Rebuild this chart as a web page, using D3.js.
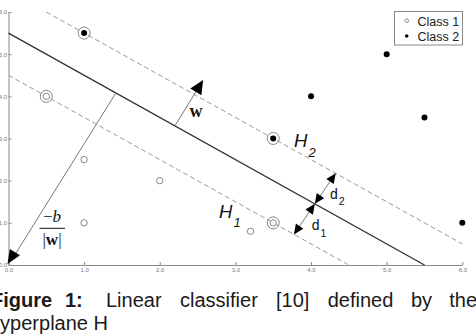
<!DOCTYPE html>
<html>
<head>
<meta charset="utf-8">
<script src="https://cdn.jsdelivr.net/npm/d3@7"></script>
<style>
  body { margin: 0; background: #fff; }
  svg { display: block; }
</style>
</head>
<body>
<svg id="chart"></svg>
<script>
// data
const class1X = [0.5, 1, 1, 2, 3.2, 3.5];
const class1Y = [4, 2.5, 1, 2, 0.8, 1];
const class2X = [1, 3.5, 4, 5, 5.5, 6];
const class2Y = [5.5, 3, 4, 5, 3.5, 1];
const supportClass1 = [[0.5, 4], [3.5, 1]];
const supportClass2 = [[1, 5.5], [3.5, 3]];
// hyperplanes y = c - x, drawn between xStart and xEnd
const planeNames = ['H', 'H2', 'H1'];
const planeIntercepts = [5.5, 6.5, 4.5];
const planeXStart = [0, 0.5, 0];
const planeXEnd = [5.5, 6, 4.5];
const xTicks = [0, 1, 2, 3, 4, 5, 6];
const yTicks = [0, 1, 2, 3, 4, 5, 6];
const legendLabels = ['Class 1', 'Class 2'];

const width = 476;
const height = 336;

const svg = d3.select('#chart').attr('width', width).attr('height', height);

const x = d3.scaleLinear().domain([0, 6]).range([8.5, 462.3]);
const y = d3.scaleLinear().domain([0, 6]).range([265, 12]);

// axes
const axisColor = '#8a8a8a';
const xAxis = svg.append('g')
  .attr('transform', `translate(0,${y(0)})`)
  .call(d3.axisBottom(x).tickValues(xTicks).tickSize(-3).tickPadding(3).tickSizeOuter(0));
const yAxis = svg.append('g')
  .attr('transform', `translate(${x(0)},0)`)
  .call(d3.axisLeft(y).tickValues(yTicks).tickSize(-3).tickPadding(1.5).tickSizeOuter(0));
[xAxis, yAxis].forEach((g) => {
  g.select('.domain').attr('stroke', axisColor);
  g.selectAll('.tick line').attr('stroke', axisColor);
  g.selectAll('.tick text')
    .attr('fill', '#777')
    .style('font-family', 'Liberation Sans, Arial, sans-serif')
    .style('font-size', '6px');
});

// hyperplanes
const planes = planeNames.map((name, i) => ({
  name, c: planeIntercepts[i], x0: planeXStart[i], x1: planeXEnd[i],
}));
svg.selectAll('.plane')
  .data(planes)
  .enter()
  .append('line')
  .attr('x1', (d) => x(d.x0))
  .attr('y1', (d) => y(d.c - d.x0))
  .attr('x2', (d) => x(d.x1))
  .attr('y2', (d) => y(d.c - d.x1))
  .attr('stroke', (d) => (d.name === 'H' ? '#333' : '#999'))
  .attr('stroke-width', (d) => (d.name === 'H' ? 1.4 : 1))
  .attr('stroke-dasharray', (d) => (d.name === 'H' ? null : '5,3'));

// helpers for the annotation arrows (pixel space)
function onPlane(xv, c) {
  return [x(xv), y(c - xv)];
}
function unit(dx, dy) {
  const l = Math.hypot(dx, dy);
  return [dx / l, dy / l];
}
// distance t along dir from p until reaching plane y = c - x
function reach(p, dir, c) {
  const kx = x(1) - x(0);
  const ky = y(0) - y(1);
  const x0 = x.invert(p[0]);
  const y0 = y.invert(p[1]);
  return (c - x0 - y0) / (dir[0] / kx - dir[1] / ky);
}
function head(tip, dir, len, half) {
  const bx = tip[0] - dir[0] * len;
  const by = tip[1] - dir[1] * len;
  const n = [-dir[1], dir[0]];
  return [tip, [bx + n[0] * half, by + n[1] * half], [bx - n[0] * half, by - n[1] * half]];
}
const ann = svg.append('g');
function drawHead(pts) {
  ann.append('polygon').attr('points', pts.map((p) => p.join(',')).join(' ')).attr('fill', '#000');
}
function drawLine(a, b) {
  ann.append('line')
    .attr('x1', a[0]).attr('y1', a[1]).attr('x2', b[0]).attr('y2', b[1])
    .attr('stroke', '#777').attr('stroke-width', 1);
}

// -b/|w| : origin to H
const origin = [x(0), y(0)];
const footB = onPlane(1.42, planeIntercepts[0]);
const dirB = unit(origin[0] - footB[0], origin[1] - footB[1]);
drawLine(footB, [origin[0] - dirB[0] * 10, origin[1] - dirB[1] * 10]);
drawHead(head([origin[0] - 1, origin[1] - 1], dirB, 14, 6));

// w : H towards H2
const baseW = onPlane(2.2, planeIntercepts[0]);
const dirW = unit(0.525, -0.851);
const tW = reach(baseW, dirW, planeIntercepts[1]);
const tipW = [baseW[0] + dirW[0] * (tW + 17), baseW[1] + dirW[1] * (tW + 17)];
drawLine(baseW, [tipW[0] - dirW[0] * 12, tipW[1] - dirW[1] * 12]);
drawHead(head(tipW, dirW, 14, 6.5));

// d1 / d2 : double arrows from H
const midD = onPlane(4.05, planeIntercepts[0]);
const dirD2 = unit(0.564, -0.826);
const dirD1 = [-dirD2[0], -dirD2[1]];
const t2 = reach(midD, dirD2, planeIntercepts[1]);
const t1 = reach(midD, dirD1, planeIntercepts[2]);
const tip2 = [midD[0] + dirD2[0] * t2, midD[1] + dirD2[1] * t2];
const tip1 = [midD[0] + dirD1[0] * t1, midD[1] + dirD1[1] * t1];
drawLine(tip1, tip2);
drawHead(head(tip2, dirD2, 10, 4.5));
drawHead(head(midD, dirD1, 10, 4.5));
drawHead(head(tip1, dirD1, 10, 4.5));
drawHead(head(midD, dirD2, 10, 4.5));

// points
const class1 = class1X.map((v, i) => [v, class1Y[i]]);
const class2 = class2X.map((v, i) => [v, class2Y[i]]);
svg.selectAll('.sv1')
  .data(supportClass1.concat(supportClass2))
  .enter()
  .append('circle')
  .attr('cx', (d) => x(d[0]))
  .attr('cy', (d) => y(d[1]))
  .attr('r', 6)
  .attr('fill', 'none')
  .attr('stroke', '#888')
  .attr('stroke-width', 1);
svg.selectAll('.c1')
  .data(class1)
  .enter()
  .append('circle')
  .attr('cx', (d) => x(d[0]))
  .attr('cy', (d) => y(d[1]))
  .attr('r', 3.2)
  .attr('fill', '#fff')
  .attr('stroke', '#888')
  .attr('stroke-width', 1);
svg.selectAll('.c2')
  .data(class2)
  .enter()
  .append('circle')
  .attr('cx', (d) => x(d[0]))
  .attr('cy', (d) => y(d[1]))
  .attr('r', 3)
  .attr('fill', '#000');

// labels
const sans = 'Liberation Sans, Arial, sans-serif';
const serif = 'Liberation Serif, Times New Roman, serif';
function subLabel(px, py, main, sub, size, subSize, subDx, subDy, italic) {
  const t = svg.append('text')
    .attr('x', px).attr('y', py)
    .style('font-family', sans)
    .style('font-style', italic ? 'italic' : 'normal')
    .attr('fill', '#111');
  t.append('tspan').style('font-size', `${size}px`).text(main);
  t.append('tspan').attr('dx', subDx).attr('dy', subDy).style('font-size', `${subSize}px`).text(sub);
}
subLabel(294, 147.3, 'H', '2', 18.5, 13, 1, 9.4, true);
subLabel(219, 217.5, 'H', '1', 18.5, 13, 1, 9.2, true);
subLabel(330, 199.3, 'd', '2', 14, 10.5, 1, 5.7, false);
subLabel(311.7, 230, 'd', '1', 14, 10.5, 1, 6.7, false);

svg.append('text')
  .attr('x', 196).attr('y', 116.7)
  .attr('text-anchor', 'middle')
  .style('font-family', serif)
  .style('font-weight', 'bold')
  .style('font-size', '18px')
  .attr('fill', '#111')
  .text('w');

// -b / |w| fraction
const frac = svg.append('g').attr('fill', '#111').style('font-family', serif).style('font-size', '17px');
const num = frac.append('text').attr('x', 52).attr('y', 222).attr('text-anchor', 'middle');
num.append('tspan').text('\u2212');
num.append('tspan').style('font-style', 'italic').text('b');
frac.append('line')
  .attr('x1', 39.5).attr('x2', 65).attr('y1', 228.3).attr('y2', 228.3)
  .attr('stroke', '#111').attr('stroke-width', 1);
const den = frac.append('text').attr('x', 52).attr('y', 245).attr('text-anchor', 'middle');
den.append('tspan').text('|');
den.append('tspan').style('font-weight', 'bold').text('w');
den.append('tspan').text('|');

// legend
const legend = svg.append('g');
legend.append('rect')
  .attr('x', 394.5).attr('y', 11.5).attr('width', 68).attr('height', 33.5)
  .attr('fill', '#fff').attr('stroke', '#888').attr('stroke-width', 1);
legendLabels.forEach((label, i) => {
  const cy = 20.7 + i * 15.3;
  legend.append('circle')
    .attr('cx', 406.7).attr('cy', cy).attr('r', 1.8)
    .attr('fill', i === 0 ? '#fff' : '#000')
    .attr('stroke', i === 0 ? '#888' : 'none');
  legend.append('text')
    .attr('x', 417.5).attr('y', cy + 5)
    .style('font-family', sans).style('font-size', '12.5px')
    .attr('fill', '#222')
    .text(label);
});

// caption (justified first line)
const captionWords = ['Figure', '1:', 'Linear', 'classifier', '[10]', 'defined', 'by', 'the'];
const captionX = [-9, 65, 106, 180, 276, 327.7, 411, 449.3];
const caption = svg.append('g').style('font-family', sans).style('font-size', '20px').attr('fill', '#1a1a1a');
captionWords.forEach((w, i) => {
  caption.append('text')
    .attr('x', captionX[i]).attr('y', 306.7)
    .style('font-weight', i < 2 ? 'bold' : 'normal')
    .text(w);
});
caption.append('text').attr('x', -11).attr('y', 330).text('hyperplane H');
</script>
</body>
</html>
